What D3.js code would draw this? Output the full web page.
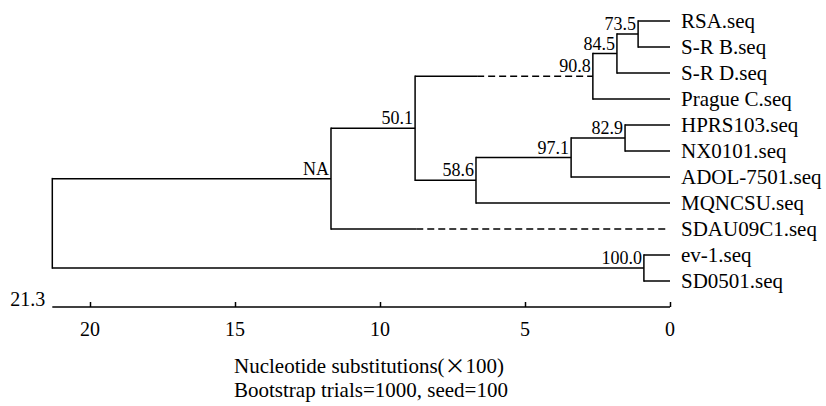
<!DOCTYPE html>
<html><head><meta charset="utf-8">
<script src="https://cdn.jsdelivr.net/npm/d3@7"></script>
<style>body{margin:0;background:#fff}svg{display:block}svg text{font-family:"Liberation Serif","Times New Roman",serif !important;fill:#000}</style>
</head><body>
<svg id="c" width="826" height="406"></svg>
<script>
// leaf order (top to bottom)
const leaves = ["RSA.seq","S-R B.seq","S-R D.seq","Prague C.seq","HPRS103.seq","NX0101.seq","ADOL-7501.seq","MQNCSU.seq","SDAU09C1.seq","ev-1.seq","SD0501.seq"];
// internal nodes: id, children, height (substitutions x100), bootstrap label
const nodeIds      = ["n735","n845","n908","n829","n971","n586","n501","nNA","n100","root"];
const nodeChildren = [["RSA.seq","S-R B.seq"],["n735","S-R D.seq"],["n845","Prague C.seq"],["HPRS103.seq","NX0101.seq"],["n829","ADOL-7501.seq"],["n971","MQNCSU.seq"],["n908","n586"],["n501","SDAU09C1.seq"],["ev-1.seq","SD0501.seq"],["nNA","n100"]];
const nodeHeights  = [1.10,1.83,2.66,1.55,3.41,6.69,8.79,11.69,0.90,21.3];
const nodeSupport  = ["73.5","84.5","90.8","82.9","97.1","58.6","50.1","NA","100.0",""];
// branches drawn partly dashed: child id and height where dashing begins
const dashedChild = ["n908","SDAU09C1.seq"];
const dashedFrom  = [6.65,8.75];
// axis
const tickValues = [20,15,10,5,0];
const axisMax = 21.3;
const titleLine1 = ["Nucleotide substitutions(","\u00D7","100)"];
const titleLine2 = "Bootstrap trials=1000, seed=100";

const svg = d3.select("#c");
const serif = '"Liberation Serif","Times New Roman",serif';
const x = d3.scaleLinear().domain([axisMax,0]).range([52.3,670]);
const y = d3.scalePoint().domain(leaves).range([21,281]);

const info = {};
leaves.forEach(l => info[l] = {h:0, y:y(l)});
nodeIds.forEach((id,i) => { info[id] = {h:nodeHeights[i], children:nodeChildren[i], label:nodeSupport[i]}; });
function getY(id){ const n=info[id]; if(n.y===undefined){ const ys=n.children.map(getY); n.y=(ys[0]+ys[ys.length-1])/2; } return n.y; }
nodeIds.forEach(getY);

const g = svg.append("g").attr("stroke","#000").attr("stroke-width",1.5).attr("fill","none");
nodeIds.forEach(id => {
  const n = info[id];
  const ys = n.children.map(c=>info[c].y);
  g.append("line").attr("x1",x(n.h)).attr("x2",x(n.h)).attr("y1",d3.min(ys)-0.75).attr("y2",d3.max(ys)+0.75);
  n.children.forEach(c => {
    const ch = info[c];
    const di = dashedChild.indexOf(c);
    if (di<0) {
      g.append("line").attr("x1",x(n.h)).attr("x2",x(ch.h)).attr("y1",ch.y).attr("y2",ch.y);
    } else {
      g.append("line").attr("x1",x(n.h)).attr("x2",x(dashedFrom[di])).attr("y1",ch.y).attr("y2",ch.y);
      g.append("line").attr("x1",x(dashedFrom[di])).attr("x2",x(ch.h)-(ch.children?0:2)).attr("y1",ch.y).attr("y2",ch.y).attr("stroke-dasharray","7,4");
    }
  });
});

// support labels
svg.append("g").selectAll("text").data(nodeIds.filter(id=>info[id].label)).join("text")
  .attr("x",id=>x(info[id].h)-2).attr("y",id=>info[id].y-4)
  .attr("text-anchor","end").attr("font-size",18).attr("font-family",serif).text(id=>info[id].label);

// leaf labels
svg.append("g").selectAll("text").data(leaves).join("text")
  .attr("x",x(0)+11).attr("y",d=>y(d)).attr("dy","0.35em")
  .attr("font-size",21).attr("font-family",serif).text(d=>d);

// axis
const axisY = 307;
const ax = svg.append("g").attr("transform",`translate(0,${axisY})`)
  .call(d3.axisTop(x).tickValues(tickValues).tickSize(5).tickFormat(""));
ax.select(".domain").attr("stroke-width",1.5).attr("d",`M${x(axisMax)},0H${x(0)}`);
ax.selectAll(".tick line").attr("stroke-width",1.5);
svg.append("g").selectAll("text").data(tickValues).join("text")
  .attr("x",d=>x(d)).attr("y",axisY+29).attr("text-anchor","middle").attr("font-size",20).attr("font-family",serif).text(d=>d);
svg.append("text").attr("x",x(axisMax)-7).attr("y",axisY-1).attr("text-anchor","end").attr("font-size",20).attr("font-family",serif).text(axisMax);

const t1 = svg.append("text").attr("x",234).attr("y",373).attr("font-size",21).attr("font-family",serif);
t1.append("tspan").text(titleLine1[0]);
t1.append("tspan").attr("style",'font-family:"Noto Sans CJK SC" !important').text(titleLine1[1]);
t1.append("tspan").text(titleLine1[2]);
svg.append("text").attr("x",234).attr("y",397).attr("font-size",21).attr("font-family",serif).text(titleLine2);
</script>
</body></html>
